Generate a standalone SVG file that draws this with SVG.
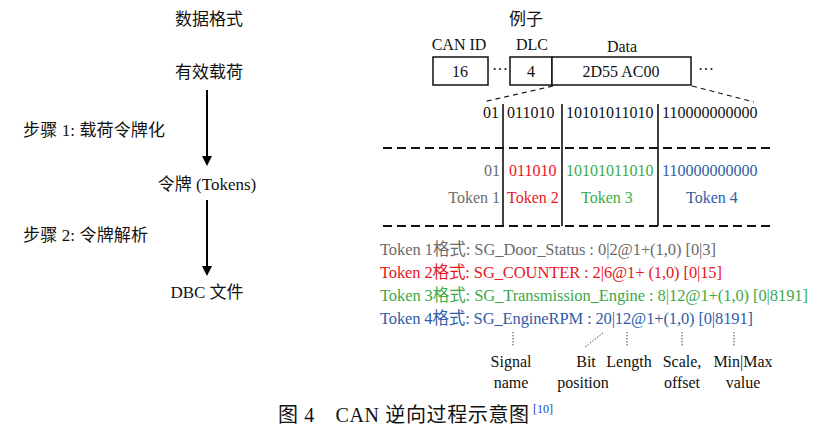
<svg xmlns="http://www.w3.org/2000/svg" width="820" height="435" viewBox="0 0 820 435">
<defs>
<marker id="ah" markerWidth="10" markerHeight="10" refX="8" refY="5" orient="auto" markerUnits="userSpaceOnUse">
<path d="M0,0 L10,5 L0,10 z" fill="#000"/>
</marker>
<style>
text{font-family:"Liberation Serif","Noto Sans CJK SC",serif;fill:#111}
.t17{font-size:17px}
.t16{font-size:16px}
.f{font-size:16.5px}
.c{text-anchor:middle}
.r{text-anchor:end}
.box{fill:#fff;stroke:#111;stroke-width:1.5}
.dash{stroke:#111;stroke-width:2;stroke-dasharray:9,5;fill:none}
.thin{stroke:#111;stroke-width:1.2;stroke-dasharray:5,4;fill:none}
.vl{stroke:#111;stroke-width:1.6}
.dot{stroke:#444;stroke-width:1;stroke-dasharray:1.5,1.5}
.gray{fill:#6b6b6b}
.red{fill:#e8151d}
.green{fill:#3ca94a}
.blue{fill:#2f5da8}
</style>
</defs>
<rect width="820" height="435" fill="#fff"/>

<g id="left-header"><text class="t17 c" x="209" y="25">数据格式</text></g>
<g id="node-payload"><text class="t17 c" x="209" y="78">有效载荷</text></g>
<g id="node-tokens"><text class="t17 c" x="207" y="190">令牌 (Tokens)</text></g>
<g id="node-dbc"><text class="t17 c" x="207" y="298">DBC 文件</text></g>
<g id="step1"><text class="t17" x="23" y="136" textLength="142">步骤 1: 载荷令牌化</text></g>
<g id="step2"><text class="t17" x="23" y="241" textLength="125">步骤 2: 令牌解析</text></g>

<g id="connectors">
<line x1="207" y1="90" x2="207" y2="164" stroke="#000" stroke-width="2" marker-end="url(#ah)"/>
<line x1="207" y1="200" x2="207" y2="274" stroke="#000" stroke-width="2" marker-end="url(#ah)"/>
</g>

<g id="right-header"><text class="t17 c" x="526" y="25">例子</text></g>

<g id="frame">
<text class="t16 c" x="459" y="50">CAN ID</text>
<text class="t16 c" x="532" y="50">DLC</text>
<text class="t16 c" x="622" y="52">Data</text>
<rect class="box" x="433" y="57" width="55" height="28"/>
<text class="t16 c" x="460" y="77">16</text>
<text class="t16" x="492" y="75">···</text>
<rect class="box" x="510" y="57" width="42" height="28"/>
<text class="t16 c" x="531" y="77">4</text>
<rect class="box" x="552" y="57" width="139" height="28"/>
<text class="t16 c" x="621" y="77">2D55 AC00</text>
<text class="t16" x="698" y="75">···</text>
<line class="thin" x1="553" y1="86" x2="483" y2="102"/>
<line class="thin" x1="692" y1="86" x2="754" y2="102"/>
</g>

<g id="bits">
<text class="t16" x="483" y="118">01</text>
<text class="t16" x="507" y="118">011010</text>
<text class="t16" x="566" y="118">10101011010</text>
<text class="t16" x="662" y="118">110000000000</text>
<line class="vl" x1="503" y1="104" x2="503" y2="226"/>
<line class="vl" x1="562" y1="104" x2="562" y2="226"/>
<line class="vl" x1="658" y1="104" x2="658" y2="226"/>
<line class="dash" x1="383" y1="148" x2="772" y2="148"/>
<line class="dash" x1="383" y1="226" x2="772" y2="226"/>
</g>

<g id="tokens">
<text class="t16 r gray" x="500" y="176">01</text>
<text class="t16 red" x="509" y="176">011010</text>
<text class="t16 green" x="566" y="176">10101011010</text>
<text class="t16 blue" x="662" y="176">110000000000</text>
<text class="t16 r gray" x="500" y="203">Token 1</text>
<text class="t16 red" x="507" y="203">Token 2</text>
<text class="t16 c green" x="607" y="203">Token 3</text>
<text class="t16 c blue" x="712" y="203">Token 4</text>
</g>

<g id="formats">
<text class="f gray" x="380" y="255" textLength="336">Token 1格式:  SG_Door_Status : 0|2@1+(1,0) [0|3]</text>
<text class="f red" x="380" y="278" textLength="342">Token 2格式:  SG_COUNTER : 2|6@1+ (1,0) [0|15]</text>
<text class="f green" x="380" y="301" textLength="428">Token 3格式:  SG_Transmission_Engine : 8|12@1+(1,0) [0|8191]</text>
<text class="f blue" x="380" y="324" textLength="373">Token 4格式:  SG_EngineRPM : 20|12@1+(1,0) [0|8191]</text>
</g>

<g id="annotations">
<line class="dot" x1="513" y1="332" x2="513" y2="346"/>
<line class="dot" x1="603" y1="333" x2="585" y2="347"/>
<line class="dot" x1="627" y1="332" x2="627" y2="346"/>
<line class="dot" x1="682" y1="332" x2="682" y2="346"/>
<line class="dot" x1="734" y1="332" x2="734" y2="346"/>
<text class="t16 c" x="511" y="367">Signal</text>
<text class="t16 c" x="511" y="388">name</text>
<text class="t16 c" x="586" y="367">Bit</text>
<text class="t16 c" x="583" y="388">position</text>
<text class="t16 c" x="629" y="367">Length</text>
<text class="t16 c" x="682" y="367">Scale,</text>
<text class="t16 c" x="682" y="388">offset</text>
<text class="t16 c" x="743" y="367">Min|Max</text>
<text class="t16 c" x="743" y="388">value</text>
</g>

<g id="caption">
<text x="278" y="422" style="font-size:20px" textLength="251">图 4　CAN 逆向过程示意图</text>
<text x="533" y="413" style="font-size:12px;fill:#1a3fd0">[10]</text>
</g>
</svg>
